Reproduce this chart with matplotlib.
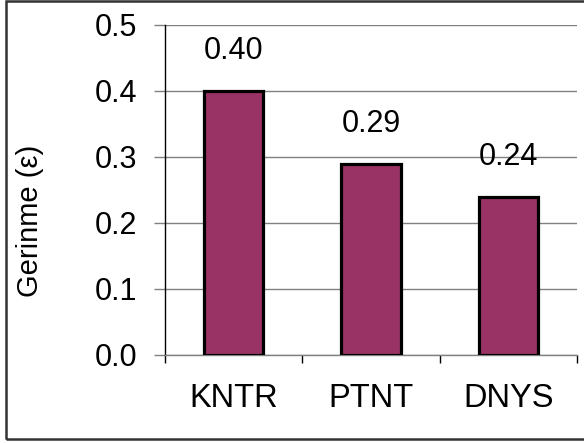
import matplotlib
matplotlib.use("Agg")
import matplotlib.pyplot as plt
from matplotlib.patches import Rectangle
import numpy as np

categories = ["KNTR", "PTNT", "DNYS"]
values = [0.40, 0.29, 0.24]
yticks = [0.0, 0.1, 0.2, 0.3, 0.4, 0.5]

plt.rcParams['font.family'] = ['Liberation Sans', 'DejaVu Sans']

fig = plt.figure(figsize=(5.84, 4.43), dpi=100)
ax = fig.add_axes([165 / 584, 1 - 355 / 443, 412 / 584, 330 / 443])

x = np.arange(len(categories))
ax.bar(x, values, width=0.43, color='#993366', edgecolor='black', linewidth=2.3, zorder=3)

for xi, v in zip(x, values):
    ax.annotate(f"{v:.2f}", (xi, v), xytext=(0, 18), textcoords='offset points',
                ha='center', va='bottom', fontsize=22)

ax.set_xlim(-0.5, len(categories) - 0.5)
ax.set_ylim(0, 0.5)
ax.set_yticks(yticks)
ax.set_yticklabels([f"{t:.1f}" for t in yticks], fontsize=22)
ax.yaxis.grid(True, color='#808080', linewidth=1.0, zorder=0)
ax.tick_params(axis='y', length=8, color='#808080', width=1.0, pad=12)

# category labels with boundary ticks between groups
ax.set_xticks(x)
ax.set_xticklabels(categories, fontsize=23.5)
ax.tick_params(axis='x', which='major', length=0, pad=20)
ax.set_xticks(np.arange(len(categories) + 1) - 0.5, minor=True)
ax.tick_params(axis='x', which='minor', length=6, color='black', width=1.0)

ax.spines['top'].set_visible(False)
ax.spines['right'].set_visible(False)
ax.spines['left'].set_color('black')
ax.spines['left'].set_linewidth(1.0)
ax.spines['bottom'].set_color('#808080')
ax.spines['bottom'].set_linewidth(1.0)

ax.set_ylabel("Gerinme (ε)", fontsize=21, va='center')
ax.yaxis.set_label_coords(-0.328, 0.405)

# chart border
fig.patches.append(Rectangle((6 / 584, 4 / 443), 1.0, 438 / 443, transform=fig.transFigure,
                             fill=False, edgecolor='#333333', linewidth=1.8))

fig.savefig("out.png", dpi=100)
